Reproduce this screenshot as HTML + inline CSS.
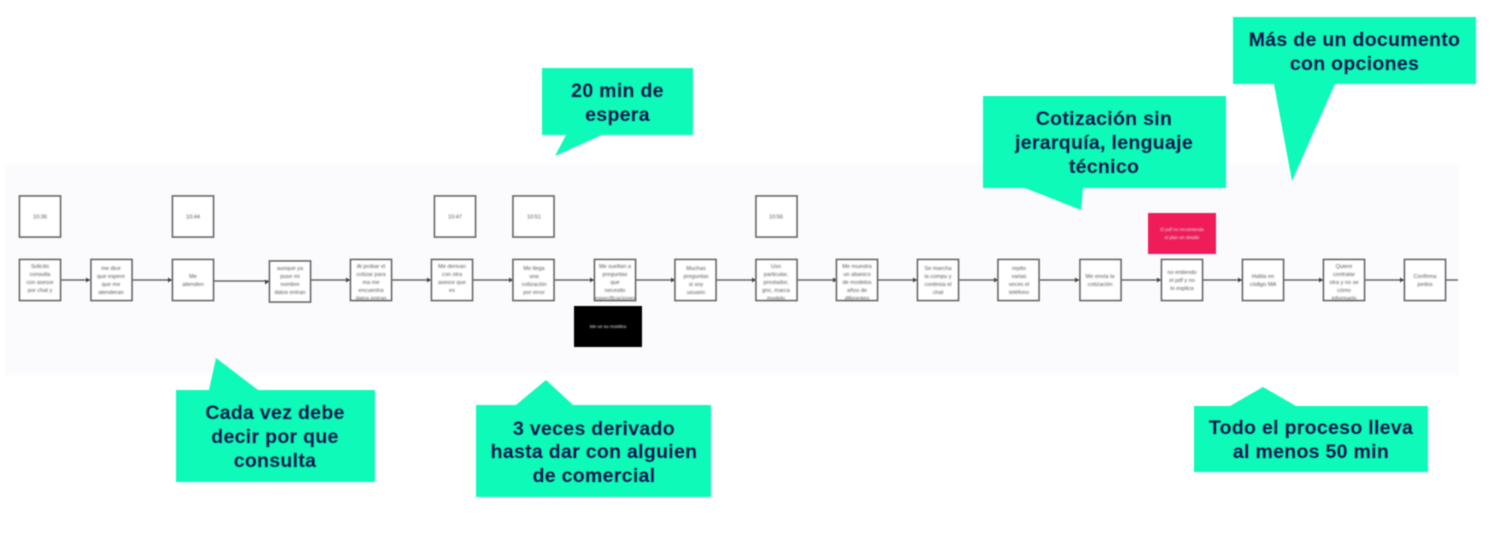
<!DOCTYPE html>
<html><head><meta charset="utf-8"><style>
html,body{margin:0;padding:0;background:#fff;width:1500px;height:546px;overflow:hidden}
svg{display:block}
.n rect{fill:#fff;stroke:#6e6e6e;stroke-width:1.8}
.s{font:5.6px "Liberation Sans",sans-serif;fill:#555;text-anchor:middle}
.w{font:4.6px "Liberation Sans",sans-serif;fill:#e4e4e4;text-anchor:middle}
.c{font:bold 19.500px "Liberation Sans",sans-serif;fill:#0e1658;stroke:#0e1658;stroke-width:.45;text-anchor:middle;letter-spacing:.3px}
.l{stroke:#666;stroke-width:1.5;fill:none}
.a{fill:#444}
</style></head><body>
<svg width="1500" height="546" viewBox="0 0 1500 546" xmlns="http://www.w3.org/2000/svg">
<defs>
<filter id="b" x="-2%" y="-2%" width="104%" height="104%"><feGaussianBlur stdDeviation="0.6"/></filter>
<filter id="t" x="-2%" y="-2%" width="104%" height="104%"><feGaussianBlur stdDeviation="0.8"/></filter>
<filter id="g" x="-2%" y="-5%" width="104%" height="110%"><feGaussianBlur stdDeviation="2"/></filter>
</defs>
<rect x="6" y="165" width="1452" height="210" fill="#fbfafd" filter="url(#g)"/>
<g filter="url(#b)">
<g class="l">
<path d="M60 280H90M132 280H172M213 281H269M310 280H350M392 280H431M473 280H513M554 280H594M636 280H675M716 280H756M797 280H837M878 280H917M959 280H998M1040 280H1079M1121 280H1161M1203 280H1242M1284 280H1323M1365 280H1404M1446 280H1458"/>
</g>
<g class="a">
<path d="M90 280l-4-2.500v5zM172 280l-4-2.500v5zM269 282l-4-2.500v5zM350 280l-4-2.500v5zM431 280l-4-2.500v5zM513 280l-4-2.500v5zM594 280l-4-2.500v5zM675 280l-4-2.500v5zM756 280l-4-2.500v5zM837 280l-4-2.500v5zM917 280l-4-2.500v5zM998 280l-4-2.500v5zM1079 280l-4-2.500v5zM1161 280l-4-2.500v5zM1242 280l-4-2.500v5zM1323 280l-4-2.500v5zM1404 280l-4-2.500v5z"/>
</g>
<g class="n">
<rect x="19.500" y="196" width="41" height="41"/><rect x="172.500" y="196" width="41" height="41"/><rect x="434.500" y="196" width="41" height="41"/><rect x="513" y="196" width="41" height="41"/><rect x="756" y="196" width="41" height="41"/>
<rect x="19.500" y="259.500" width="41" height="41"/><rect x="91" y="259.500" width="41" height="41"/><rect x="172.500" y="259.500" width="41" height="41"/><rect x="269.500" y="261" width="41" height="41"/><rect x="350.500" y="259.500" width="41" height="41"/><rect x="431.500" y="259.500" width="41" height="41"/><rect x="513" y="259.500" width="41" height="41"/><rect x="594.500" y="259.500" width="41" height="41"/><rect x="675" y="259.500" width="41" height="41"/><rect x="756" y="259.500" width="41" height="41"/><rect x="836.500" y="259.500" width="41" height="41"/><rect x="917.500" y="259.500" width="41" height="41"/><rect x="998" y="259.500" width="41" height="41"/><rect x="1080" y="259.500" width="41" height="41"/><rect x="1161.500" y="259.500" width="41" height="41"/><rect x="1242.500" y="259.500" width="41" height="41"/><rect x="1323.500" y="259.500" width="41" height="41"/><rect x="1404.500" y="259.500" width="41" height="41"/>
</g>
</g>
<g class="s" filter="url(#t)">
<text x="40" y="218.500">10:36</text><text x="193" y="218.500">10:44</text><text x="455" y="218.500">10:47</text><text x="534" y="218.500">10:51</text><text x="776" y="218.500">10:56</text>
<text x="40" y="268">Solicito</text><text x="40" y="276">consulta</text><text x="40" y="284">con asesor</text><text x="40" y="292">por chat y</text>
<text x="111" y="270">me dice</text><text x="111" y="278">que espere</text><text x="111" y="286">que me</text><text x="111" y="294">atenderan</text>
<text x="193" y="278">Me</text><text x="193" y="286">atienden</text>
<text x="290" y="270">aunque ya</text><text x="290" y="278">puse mi</text><text x="290" y="286">nombre</text><text x="290" y="294">datos entran</text>
<text x="371" y="268">Al probar el</text><text x="371" y="276">cotizar para</text><text x="371" y="284">ma me</text><text x="371" y="292">encuentra</text><text x="371" y="300">datos entran</text>
<text x="452" y="268">Me derivan</text><text x="452" y="276">con otra</text><text x="452" y="284">asesor que</text><text x="452" y="292">es</text>
<text x="534" y="270">Me llega</text><text x="534" y="278">una</text><text x="534" y="286">cotización</text><text x="534" y="294">por error</text>
<text x="615" y="268">Me sueltan a</text><text x="615" y="276">preguntas</text><text x="615" y="284">que</text><text x="615" y="292">necesito</text><text x="615" y="300">especificaciones</text>
<text x="696" y="270">Muchas</text><text x="696" y="278">preguntas</text><text x="696" y="286">si soy</text><text x="696" y="294">usuario</text>
<text x="776" y="268">Uso</text><text x="776" y="276">particular,</text><text x="776" y="284">prestador,</text><text x="776" y="292">gnc, marca</text><text x="776" y="300">modelo</text>
<text x="857" y="268">Me muestra</text><text x="857" y="276">un abanico</text><text x="857" y="284">de modelos</text><text x="857" y="292">años de</text><text x="857" y="300">diferentes</text>
<text x="938" y="270">Se marcha</text><text x="938" y="278">la compu y</text><text x="938" y="286">continúa el</text><text x="938" y="294">chat</text>
<text x="1019" y="270">repito</text><text x="1019" y="278">varias</text><text x="1019" y="286">veces el</text><text x="1019" y="294">teléfono</text>
<text x="1100" y="278">Me envía la</text><text x="1100" y="286">cotización</text>
<text x="1182" y="274">no entiendo</text><text x="1182" y="282">el pdf y no</text><text x="1182" y="290">lo explica</text>
<text x="1263" y="278">Habla en</text><text x="1263" y="286">código MA</text>
<text x="1344" y="268">Quiere</text><text x="1344" y="276">contratar</text><text x="1344" y="284">otra y no se</text><text x="1344" y="292">cómo</text><text x="1344" y="300">informarlo</text>
<text x="1425" y="278">Confirma</text><text x="1425" y="286">pedos</text>
</g>
<g filter="url(#b)">
<rect x="574" y="306" width="68" height="41" fill="#000"/>
<rect x="1148" y="213" width="68" height="41" fill="#f01a5a"/>
</g>
<g filter="url(#t)">
<text class="w" x="608" y="328">Me ve su mostitra</text>
<text class="w" x="1182" y="231">El pdf no recomienda</text><text class="w" x="1182" y="239">el plan en detalle</text>
</g>
<g filter="url(#b)">
<g fill="#10fab8">
<path d="M542 68H693V135H602L555 156L566 135H542Z"/>
<path d="M1233 17H1476V84H1335L1292 181L1274 84H1233Z"/>
<path d="M983 96H1226V188H1083L1081 210L1025 188H983Z"/>
<path d="M176 390H209L216 358L258 390H375V482H176Z"/>
<path d="M476 405H516L546 380L573 405H711V497H476Z"/>
<path d="M1194 406H1230L1263 387L1296 406H1428V472H1194Z"/>
</g>
<g class="c">
<text x="617.500" y="97">20 min de</text><text x="617.500" y="121">espera</text>
<text x="1354.500" y="46">Más de un documento</text><text x="1354.500" y="70">con opciones</text>
<text x="1104" y="125">Cotización sin</text><text x="1104" y="149">jerarquía, lenguaje</text><text x="1104" y="173">técnico</text>
<text x="275" y="419">Cada vez debe</text><text x="275" y="443">decir por que</text><text x="275" y="467">consulta</text>
<text x="594" y="435">3 veces derivado</text><text x="594" y="458">hasta dar con alguien</text><text x="594" y="482">de comercial</text>
<text x="1311" y="434">Todo el proceso lleva</text><text x="1311" y="458">al menos 50 min</text>
</g>
</g>
</svg>
</body></html>
